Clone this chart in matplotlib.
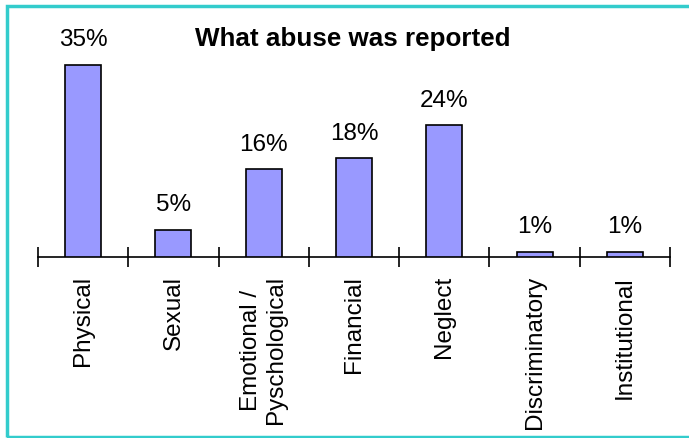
import matplotlib
matplotlib.use("Agg")
import matplotlib.pyplot as plt
from matplotlib.patches import Rectangle

categories = ["Physical", "Sexual", "Emotional /\nPyschological", "Financial",
              "Neglect", "Discriminatory", "Institutional"]
values = [35, 5, 16, 18, 24, 1, 1]
value_labels = ["35%", "5%", "16%", "18%", "24%", "1%", "1%"]
title = "What abuse was reported"

plt.rcParams['font.family'] = ['Liberation Sans', 'DejaVu Sans']

W, H = 689, 439
fig = plt.figure(figsize=(W / 100, H / 100), dpi=100)

# axes: x from 38 to 670 px, baseline at y=258 px, top at ~38 px
left, right = 38, 670
base, top = 258, 38
ax = fig.add_axes([left / W, 1 - base / H, (right - left) / W, (base - top) / H])
ax.set_xlim(-0.5, len(categories) - 0.5)
ax.set_ylim(0, 40)

x = range(len(categories))
ax.bar(x, values, width=0.4, color="#9999FF", edgecolor="black", linewidth=1.2, zorder=3)

for xi, v, lab in zip(x, values, value_labels):
    ax.annotate(lab, (xi, v), xytext=(0, 13.7), textcoords="offset points",
                ha="center", va="baseline", fontsize=17.5)

for s in ["top", "right", "left"]:
    ax.spines[s].set_visible(False)
ax.spines["bottom"].set_linewidth(1.2)
ax.set_yticks([])

ax.set_xticks([i - 0.5 for i in range(len(categories) + 1)])
ax.set_xticklabels([])
ax.tick_params(axis="x", direction="inout", length=15, width=1.2)
ax.set_xticks(list(x), minor=True)
ax.set_xticklabels(categories, minor=True, rotation=90, fontsize=17.5,
                   va="top", ha="center", multialignment="center")
ax.tick_params(axis="x", which="minor", length=0, pad=13)

fig.text(352.5 / W, 1 - 46 / H, title, ha="center", va="baseline",
         fontsize=18.7, fontweight="bold")

fig.patches.append(Rectangle((6.5 / W, 1.5 / H), (W + 10) / W, (H - 8.5) / H,
                             transform=fig.transFigure, fill=False,
                             edgecolor="#33CCCC", linewidth=2.5))

fig.savefig("out.png", dpi=100)
